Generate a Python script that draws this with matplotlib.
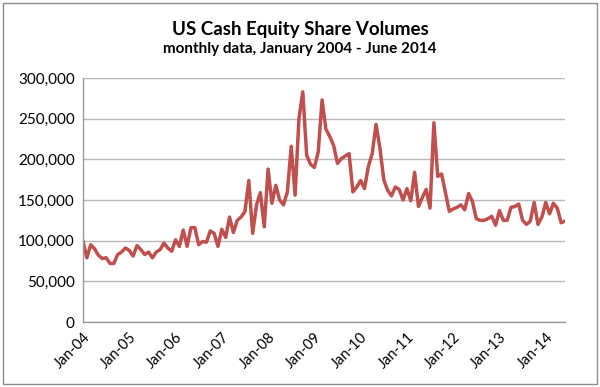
import numpy as np
import matplotlib.pyplot as plt
from matplotlib.patches import Rectangle

# monthly volumes, one list per year
v2004 = [99000, 79000, 95000, 90000, 82000, 78000, 79000, 72000, 72000, 83000, 86000, 91000]
v2005 = [88000, 81000, 94000, 89000, 83000, 86000, 79000, 86000, 89000, 97000, 91000, 87000]
v2006 = [101000, 93000, 113000, 93000, 116000, 116000, 95000, 99000, 98000, 112000, 109000, 93000]
v2007 = [114000, 104000, 129000, 110000, 125000, 129000, 136000, 174000, 109000, 144000, 159000, 117000]
v2008 = [188000, 146000, 168000, 150000, 144000, 160000, 216000, 156000, 250000, 283000, 205000, 194000]
v2009 = [190000, 209000, 273000, 237000, 228000, 217000, 195000, 201000, 204000, 207000, 160000, 166000]
v2010 = [174000, 164000, 191000, 207000, 243000, 214000, 175000, 162000, 155000, 166000, 163000, 150000]
v2011 = [164000, 149000, 184000, 142000, 153000, 163000, 140000, 245000, 179000, 182000, 159000, 136000]
v2012 = [139000, 141000, 144000, 138000, 158000, 148000, 127000, 125000, 125000, 127000, 130000, 119000]
v2013 = [137000, 125000, 125000, 141000, 142000, 145000, 125000, 120000, 124000, 147000, 120000, 129000]
v2014 = [147000, 133000, 146000, 140000, 122000, 124000]

volumes = v2004 + v2005 + v2006 + v2007 + v2008 + v2009 + v2010 + v2011 + v2012 + v2013 + v2014
tick_labels = ['Jan-04', 'Jan-05', 'Jan-06', 'Jan-07', 'Jan-08', 'Jan-09',
               'Jan-10', 'Jan-11', 'Jan-12', 'Jan-13', 'Jan-14']
y_ticks = [0, 50000, 100000, 150000, 200000, 250000, 300000]

plt.rcParams['font.family'] = ['Lato', 'DejaVu Sans']

fig = plt.figure(figsize=(6, 3.87), dpi=100)
ax = fig.add_axes([83 / 600, 1 - 322 / 387, 482 / 600, 244 / 387])

x = np.arange(len(volumes))
ax.plot(x, volumes, color='#C0504D', linewidth=2.5, solid_joinstyle='round')

ax.set_xlim(0, len(volumes) - 1)
ax.set_ylim(0, 300000)
ax.set_yticks(y_ticks)
ax.set_yticklabels([f'{v:,}' for v in y_ticks], fontsize=11)
ax.set_xticks(np.arange(len(tick_labels)) * 12)
ax.set_xticklabels(tick_labels, fontsize=10.5, rotation=45, ha='right',
                   rotation_mode='anchor')
ax.tick_params(length=0, pad=6)
ax.grid(axis='y', color='#b8b8b8', linewidth=1)
ax.set_axisbelow(True)
for side in ['top', 'right']:
    ax.spines[side].set_visible(False)
for side in ['left', 'bottom']:
    ax.spines[side].set_color('#999999')
    ax.spines[side].set_linewidth(1)

fig.text(0.5, 1 - 29 / 387, 'US Cash Equity Share Volumes', ha='center', va='center',
         fontsize=13.5, fontweight='bold')
fig.text(0.5, 1 - 49 / 387, 'monthly data, January 2004 - June 2014', ha='center',
         va='center', fontsize=11, fontweight='bold')

fig.patches.append(Rectangle((3 / 600, 3 / 387), 594 / 600, 381 / 387, transform=fig.transFigure,
                             fill=False, edgecolor='#8c8c8c', linewidth=1))

fig.savefig('out.png', dpi=100)
